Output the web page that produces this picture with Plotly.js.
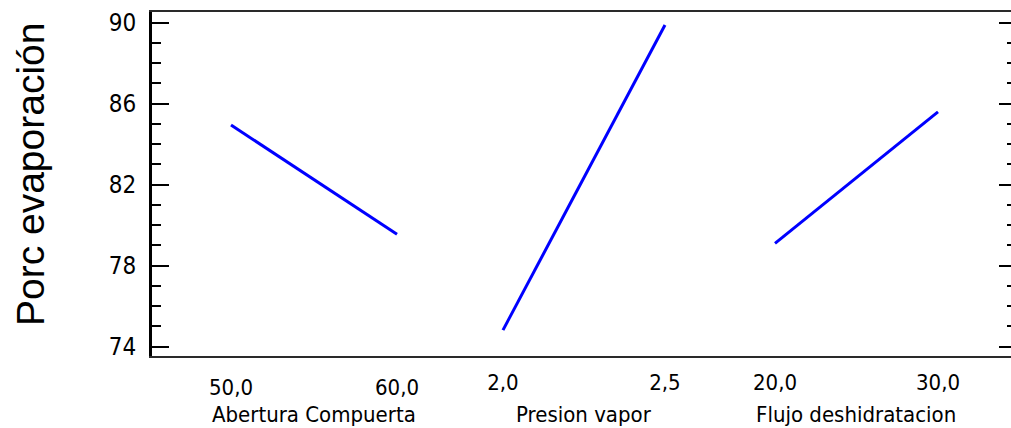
<!DOCTYPE html>
<html>
<head>
<meta charset="utf-8">
<script src="https://cdn.plot.ly/plotly-3.0.1.min.js"></script>
<style>html,body{margin:0;padding:0;background:#fff;}#chart{width:1011px;height:428px;}</style>
</head>
<body>
<div id="chart"></div>
<script>
// Factors (low, high levels) and mean response
const factorNames = ["Abertura Compuerta", "Presion vapor", "Flujo deshidratacion"];
const aberturaLevels = [50, 60];
const aberturaValues = [84.95, 79.55];
const presionLevels = [2.0, 2.5];
const presionValues = [74.82, 89.89];
const flujoLevels = [20, 30];
const flujoValues = [79.1, 85.6];
const aberturaTicks = ["50,0", "60,0"];
const presionTicks = ["2,0", "2,5"];
const flujoTicks = ["20,0", "30,0"];
const yTickVals = [74, 78, 82, 86, 90];
const yTitle = "Porc evaporación";

const lineStyle = {color: "#0000ff", width: 3};
const traces = [
  {x: aberturaLevels, y: aberturaValues, xaxis: "x", yaxis: "y", mode: "lines", line: lineStyle, hoverinfo: "skip"},
  {x: presionLevels, y: presionValues, xaxis: "x2", yaxis: "y", mode: "lines", line: lineStyle, hoverinfo: "skip"},
  {x: flujoLevels, y: flujoValues, xaxis: "x3", yaxis: "y2", mode: "lines", line: lineStyle, hoverinfo: "skip"}
];

const narrow = "DejaVu Sans Condensed, Liberation Sans Narrow, Arial Narrow, sans-serif";
const tickFont = {family: narrow, size: 22, color: "#000"};
const yRange = [73.54, 90.53];

function xAx(range, vals, text, extra) {
  return Object.assign({
    domain: [0, 1], range: range, tickmode: "array", tickvals: vals, ticktext: text,
    ticks: "", showgrid: false, zeroline: false, showline: false,
    tickfont: tickFont, ticklabelstandoff: 11, anchor: "y", fixedrange: true
  }, extra || {});
}

const layout = {
  width: 1011, height: 428,
  margin: {l: 152, r: 0, t: 12, b: 72},
  paper_bgcolor: "#fff", plot_bgcolor: "#fff",
  showlegend: false,
  xaxis: xAx([45.24, 96.99], aberturaLevels, aberturaTicks, {showline: true, mirror: true, linecolor: "#2a2a2a", linewidth: 2}),
  xaxis2: xAx([0.9167, 3.568], presionLevels, presionTicks, {overlaying: "x"}),
  xaxis3: xAx([-18.22, 34.48], flujoLevels, flujoTicks, {overlaying: "x"}),
  yaxis: {
    range: yRange, tickmode: "array", tickvals: yTickVals,
    ticks: "inside", ticklen: 17, tickwidth: 2, tickcolor: "#000",
    minor: {dtick: 1, tick0: 74, ticks: "inside", ticklen: 9, tickwidth: 2, tickcolor: "#000", showgrid: false},
    showline: true, linecolor: "#000", linewidth: 3,
    showgrid: false, zeroline: false, tickfont: {family: narrow, size: 24, color: "#000"}, ticklabelstandoff: 8, fixedrange: true
  },
  yaxis2: {
    range: yRange, overlaying: "y", side: "right", anchor: "x", tickmode: "array", tickvals: yTickVals,
    ticks: "inside", ticklen: 12, tickwidth: 2, tickcolor: "#000",
    minor: {dtick: 1, tick0: 74, ticks: "inside", ticklen: 4, tickwidth: 2, tickcolor: "#000", showgrid: false},
    showline: false, showticklabels: false, showgrid: false, zeroline: false, fixedrange: true
  },
  annotations: [
    {text: factorNames[0], xref: "x", x: (aberturaLevels[0] + aberturaLevels[1]) / 2, yref: "paper", y: -0.17, yanchor: "middle", xanchor: "center", showarrow: false, font: {family: narrow, size: 22, color: "#000"}},
    {text: factorNames[1], xref: "x2", x: (presionLevels[0] + presionLevels[1]) / 2, yref: "paper", y: -0.17, yanchor: "middle", xanchor: "center", showarrow: false, font: {family: narrow, size: 22, color: "#000"}},
    {text: factorNames[2], xref: "x3", x: (flujoLevels[0] + flujoLevels[1]) / 2, yref: "paper", y: -0.17, yanchor: "middle", xanchor: "center", showarrow: false, font: {family: narrow, size: 22, color: "#000"}},
    {text: yTitle, xref: "paper", x: -0.142, yref: "paper", y: 0.529, xanchor: "center", yanchor: "middle", textangle: -90, showarrow: false, font: {family: "Liberation Sans, Arial, sans-serif", size: 39, color: "#000"}}
  ]
};

Plotly.newPlot("chart", traces, layout, {staticPlot: true, displayModeBar: false});
</script>
</body>
</html>
